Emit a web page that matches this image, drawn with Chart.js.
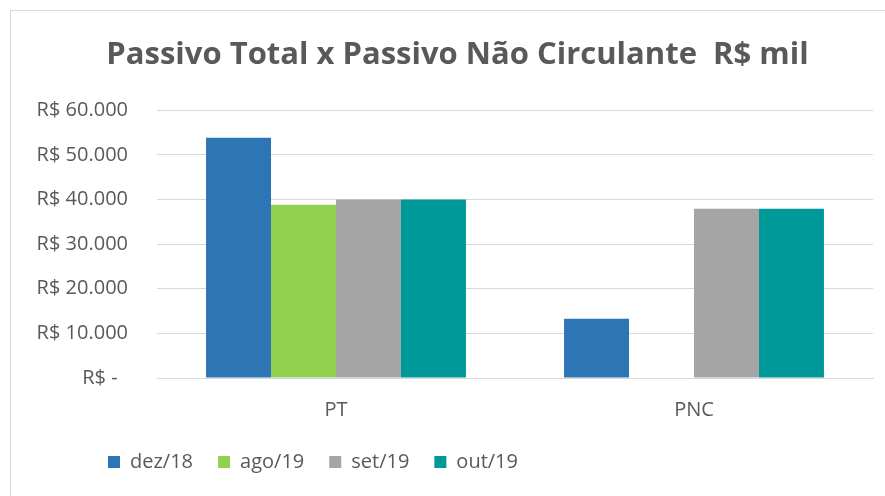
<!DOCTYPE html>
<html>
<head>
<meta charset="utf-8">
<script src="https://cdn.jsdelivr.net/npm/chart.js@4.4.1/dist/chart.umd.min.js"></script>
<style>
  html, body { margin: 0; padding: 0; background: #fff; }
  #wrap { position: relative; width: 885px; height: 496px; }
  #frame {
    position: absolute; left: 10px; top: 10px; right: -2px; bottom: -2px;
    border-left: 1px solid #d9d9d9; border-top: 1px solid #d9d9d9;
    pointer-events: none;
  }
  canvas { display: block; }
</style>
</head>
<body>
<div id="wrap">
  <canvas id="chart" width="885" height="496"></canvas>
  <div id="frame"></div>
</div>
<script>
const titleText = "Passivo Total x Passivo Não Circulante  R$ mil";
const categories = ["PT", "PNC"];
const seriesNames = ["dez/18", "ago/19", "set/19", "out/19"];
const dez18 = [53800, 13300];
const ago19 = [38800, null];
const set19 = [40000, 37900];
const out19 = [40000, 37900];
const colors = ["#2e75b6", "#92d050", "#a5a5a5", "#009999"];

const textColor = "#595959";
const fontFamily = "'Open Sans', sans-serif";

function yLabel(v) {
  if (v === 0) return "R$ -  ";
  return "R$ " + v.toLocaleString("pt-BR");
}

// Excel's chart object is wider than the crop, so title and legend sit off-centre.
const boxShift = {
  id: "boxShift",
  afterLayout(chart) {
    chart.legend.left += 83;
    chart.legend.right += 83;
    chart.titleBlock.left += 21;
    chart.titleBlock.right += 21;
  }
};

const values = [dez18, ago19, set19, out19];

new Chart(document.getElementById("chart"), {
  type: "bar",
  data: {
    labels: categories,
    datasets: seriesNames.map((name, i) => ({
      label: name,
      data: values[i],
      backgroundColor: colors[i],
      borderWidth: 0,
      barPercentage: 1,
      categoryPercentage: 0.726
    }))
  },
  options: {
    responsive: false,
    animation: false,
    layout: { padding: { left: 0, right: 12, top: 0, bottom: 14 } },
    plugins: {
      title: {
        display: true,
        text: titleText,
        color: textColor,
        font: { family: fontFamily, size: 31, weight: "bold" },
        padding: { top: 37, bottom: 36 }
      },
      legend: {
        position: "bottom",
        align: "start",
        labels: {
          color: textColor,
          font: { family: fontFamily, size: 20 },
          boxWidth: 12,
          boxHeight: 12,
          padding: 25
        }
      },
      tooltip: { enabled: false }
    },
    scales: {
      x: {
        grid: { display: false, drawTicks: false },
        border: { color: "#d9d9d9" },
        ticks: {
          color: textColor,
          font: { family: fontFamily, size: 20 },
          padding: 20
        },
        afterFit(scale) { scale.height = 49; }
      },
      y: {
        min: 0,
        max: 60000,
        grid: { color: "#d9d9d9", drawTicks: false },
        border: { display: false },
        ticks: {
          stepSize: 10000,
          color: textColor,
          font: { family: fontFamily, size: 20 },
          padding: 29,
          callback: yLabel
        },
        afterFit(scale) { scale.width = 157; }
      }
    }
  },
  plugins: [boxShift]
});
</script>
</body>
</html>
